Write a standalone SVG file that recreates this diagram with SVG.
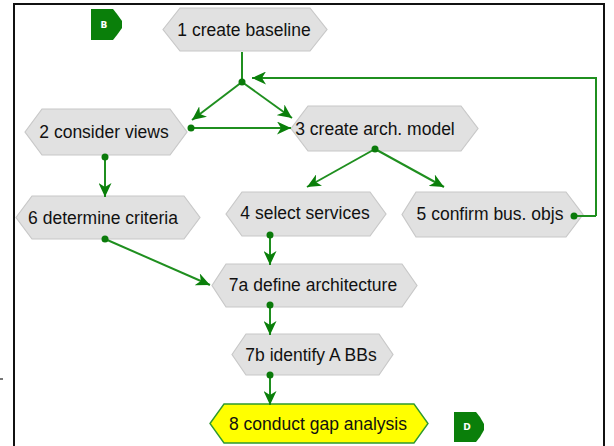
<svg xmlns="http://www.w3.org/2000/svg" width="614" height="446" viewBox="0 0 614 446">
  <style>
    .hex { fill: #e1e1e1; stroke: #c8c8c8; stroke-width: 1.2; }
    .hex-hl { fill: #ffff00; stroke: #2e9a2e; stroke-width: 1.4; }
    .lbl { font-family: "Liberation Sans", Arial, sans-serif; font-size: 17.5px; fill: #111; text-anchor: middle; dominant-baseline: central; }
    .conn { stroke: #1f8f1f; stroke-width: 2; fill: none; }
    .dot { fill: #0a7a0a; }
    .badge { fill: #0a7f0a; }
    .badge-txt { font-family: "DejaVu Sans", sans-serif; font-size: 9px; font-weight: bold; fill: #fff; text-anchor: middle; dominant-baseline: central; }
  </style>
  <defs>
    <marker id="arrow" markerUnits="userSpaceOnUse" markerWidth="15" markerHeight="13" refX="14" refY="6.5" orient="auto">
      <path d="M0,0 L14,6.5 L0,13 L4,6.5 Z" fill="#0a7f0a"/>
    </marker>
  </defs>

  <rect width="614" height="446" fill="#fff"/>

  <!-- page frame -->
  <g id="frame" fill="none" stroke="#111" stroke-width="2">
    <path d="M14,446 V4 H604 V446"/>
  </g>
  <rect x="0" y="378" width="3" height="2" fill="#777"/>

  <!-- off-page connectors -->
  <g id="badge-B">
    <path class="badge" d="M91,9 H113 L117,14 L122,21 V28 L117,35 L113,40 H91 Z"/>
    <text class="badge-txt" x="104" y="24.5">B</text>
  </g>
  <g id="badge-D">
    <path class="badge" d="M454,412 H476 L480,417 L484,424 V430 L480,437 L476,442 H454 Z"/>
    <text class="badge-txt" x="467" y="427">D</text>
  </g>

  <!-- process steps -->
  <g id="n1">
    <polygon class="hex" points="163,29.5 180,8 310,8 327,29.5 310,51 180,51"/>
    <text class="lbl" x="244" y="29.5">1 create baseline</text>
  </g>
  <g id="n2">
    <polygon class="hex" points="25,132 42,109 170,109 187,132 170,155 42,155"/>
    <text class="lbl" x="104" y="132">2 consider views</text>
  </g>
  <g id="n3">
    <polygon class="hex" points="291,128.5 308,106 461,106 478,128.5 461,151 308,151"/>
    <text class="lbl" x="375" y="128.5">3 create arch. model</text>
  </g>
  <g id="n4">
    <polygon class="hex" points="226,214 242,192 370,192 386,214 370,236 242,236"/>
    <text class="lbl" x="305" y="213">4 select services</text>
  </g>
  <g id="n5">
    <polygon class="hex" points="402,214.5 416,192 566,192 583,214.5 566,237 416,237"/>
    <text class="lbl" x="490" y="214">5 confirm bus. objs</text>
  </g>
  <g id="n6">
    <polygon class="hex" points="16,217.5 32,196 184,196 200,217.5 184,239 32,239"/>
    <text class="lbl" x="103" y="217.5">6 determine criteria</text>
  </g>
  <g id="n7a">
    <polygon class="hex" points="212,285.5 226,264 402,264 417,285.5 402,307 226,307"/>
    <text class="lbl" x="313" y="285">7a define architecture</text>
  </g>
  <g id="n7b">
    <polygon class="hex" points="232,354.5 246,334 379,334 393,354.5 379,375 246,375"/>
    <text class="lbl" x="311" y="354.5">7b identify A BBs</text>
  </g>
  <g id="n8">
    <polygon class="hex-hl" points="210,423.5 224,404 414,404 428,423.5 414,443 224,443"/>
    <text class="lbl" x="318" y="423.5">8 conduct gap analysis</text>
  </g>

  <!-- connectors (drawn over node edges so the start dots show) -->
  <g id="connectors">
    <path class="conn" d="M242,52 V82"/>
    <path class="conn" d="M596,216 V78 H252" marker-end="url(#arrow)"/>
    <path class="conn" d="M574,216 H596"/>
    <path class="conn" d="M242,82 L192,120" marker-end="url(#arrow)"/>
    <path class="conn" d="M242,82 L292,118" marker-end="url(#arrow)"/>
    <path class="conn" d="M191,128 H291" marker-end="url(#arrow)"/>
    <path class="conn" d="M375,149 L307,187" marker-end="url(#arrow)"/>
    <path class="conn" d="M375,149 L444,187" marker-end="url(#arrow)"/>
    <path class="conn" d="M105,157 V197" marker-end="url(#arrow)"/>
    <path class="conn" d="M105,239 L210,285" marker-end="url(#arrow)"/>
    <path class="conn" d="M270,235 V265" marker-end="url(#arrow)"/>
    <path class="conn" d="M270,305 V335" marker-end="url(#arrow)"/>
    <path class="conn" d="M270,375 V405" marker-end="url(#arrow)"/>
    <circle class="dot" cx="242" cy="82" r="3.5"/>
    <circle class="dot" cx="191" cy="128" r="3.5"/>
    <circle class="dot" cx="375" cy="149" r="3.5"/>
    <circle class="dot" cx="574" cy="216" r="3.5"/>
    <circle class="dot" cx="105" cy="157" r="3.5"/>
    <circle class="dot" cx="105" cy="239" r="3.5"/>
    <circle class="dot" cx="270" cy="235" r="3.5"/>
    <circle class="dot" cx="270" cy="305" r="3.5"/>
    <circle class="dot" cx="270" cy="375" r="3.5"/>
  </g>
</svg>
